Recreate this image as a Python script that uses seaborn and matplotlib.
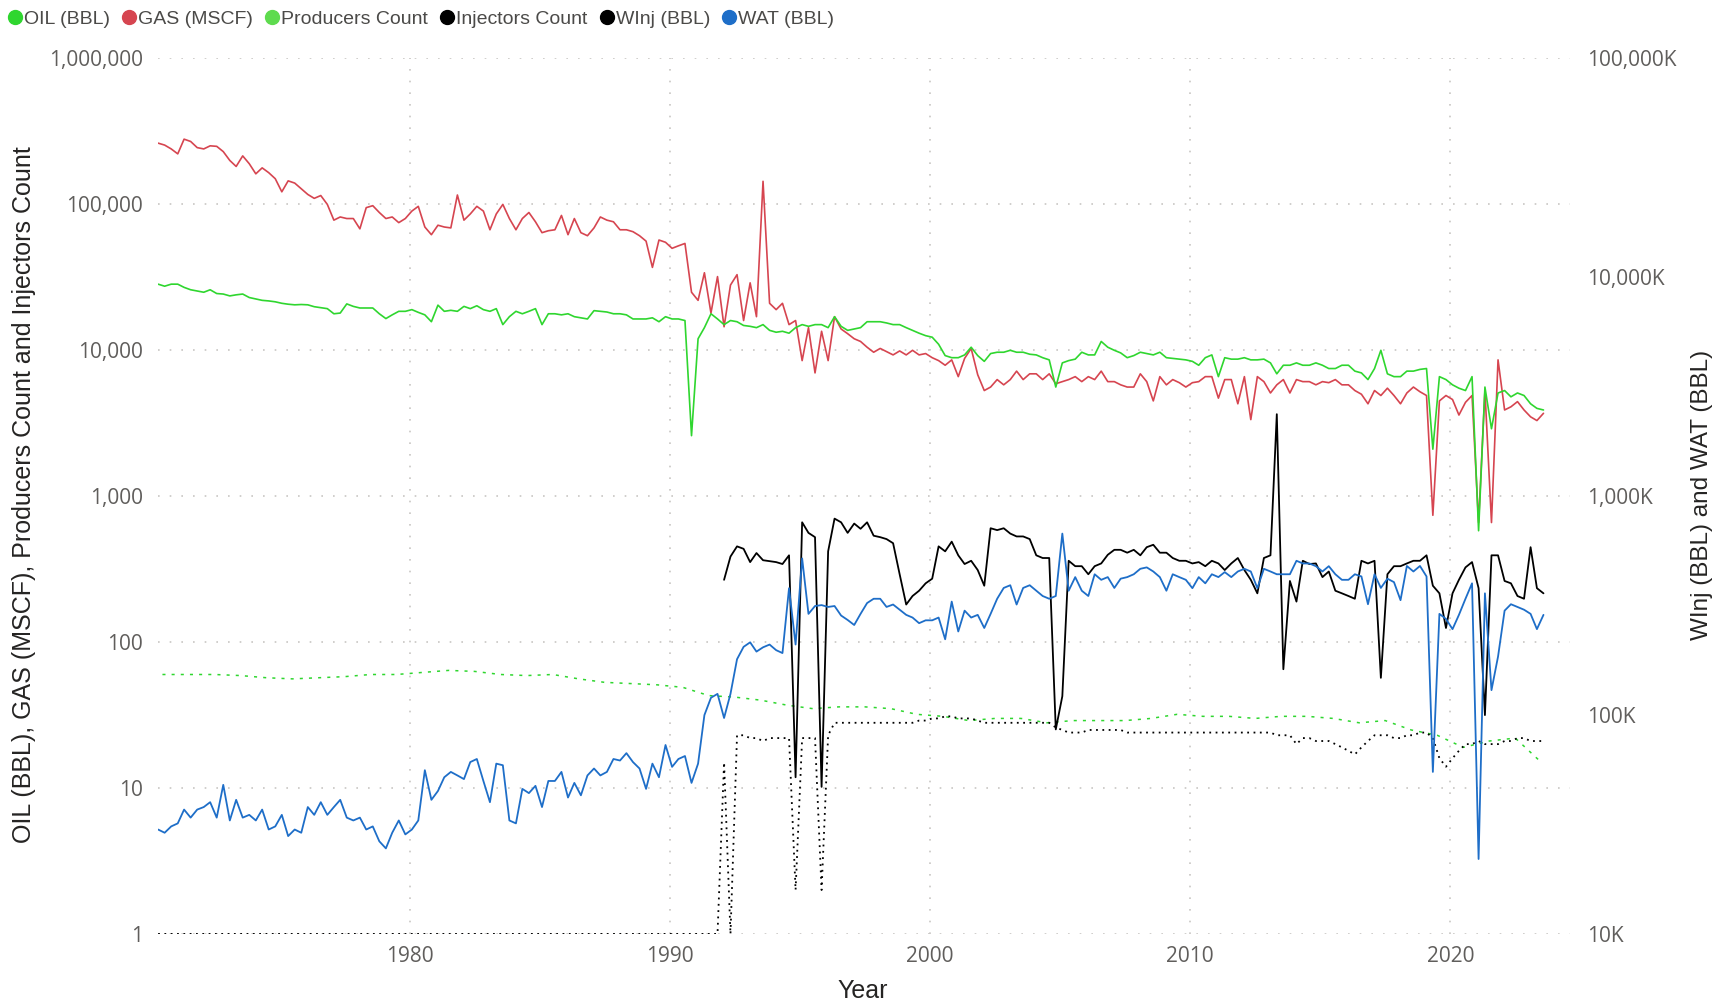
import pandas as pd
import matplotlib
matplotlib.use("Agg")
import matplotlib.pyplot as plt
import matplotlib.dates as mdates
from matplotlib.ticker import FixedLocator, FuncFormatter, NullLocator
from matplotlib.lines import Line2D
import seaborn as sns

# quarterly values, first point May 1970, last point Aug 2023
oil = [
    28400, 27500, 28400,
    28400, 27000, 26000, 25500,  25000, 26000, 24500, 24300,  23600, 24000, 24300, 23000,
    22500, 22000, 21800, 21500,  21000, 20700, 20500, 20600,  20500, 19900, 19600, 19300,
    17800, 18000, 20800, 20000,  19500, 19500, 19500, 17800,  16500, 17500, 18500, 18500,
    19000, 18200, 17500, 15700,  20400, 18500, 18800, 18500,  20000, 19300, 20200, 19000,
    18500, 19300, 15000, 17000,  18500, 17800, 18500, 19300,  15000, 17800, 17800, 17500,
    17800, 17000, 16700, 16400,  18700, 18500, 18300, 17800,  17800, 17500, 16400, 16400,
    16400, 16700, 15700, 17000,  16400, 16400, 16000, 2600,   12000, 14300, 17800, 16400,
    15000, 16000, 15700, 14800,  14600, 14300, 15000, 13700,  13300, 13500, 13100, 14300,
    15000, 14600, 15000, 15000,  14300, 17000, 14600, 13700,  14000, 14300, 15700, 15700,
    15700, 15400, 15000, 15000,  14300, 13700, 13100, 12600,  12300, 11000, 9200, 8900,
    8900, 9300, 10500, 9200,     8400, 9500, 9700, 9700,      10000, 9700, 9700, 9400,
    9300, 8900, 8600, 5600,      8200, 8500, 8700, 9700,      9300, 9300, 11500, 10500,
    10000, 9600, 8900, 9200,     9700, 9500, 9300, 9700,      8900, 8800, 8700, 8600,
    8400, 7900, 8900, 9300,      6600, 8900, 8700, 8700,      8900, 8600, 8600, 8700,
    8200, 6900, 7900, 7900,      8200, 7900, 7900, 8200,      7900, 7500, 7500, 7900,
    7900, 7200, 7000, 6300,      7500, 10000, 6900, 6600,     6600, 7200, 7200, 7400,
    7500, 2100, 6600, 6300,      5800, 5500, 5300, 6600,      580, 5600, 2900, 5100,
    5300, 4800, 5100, 4900,
    4300, 4000, 3900,
]

gas = [
    263000, 255000, 240000,
    222000, 280000, 270000, 245000,  240000, 252000, 250000, 230000,  200000, 182000, 215000, 190000,
    162000, 178000, 165000, 150000,  122000, 145000, 140000, 128000,  117000, 110000, 115000, 100000,
    78000, 82000, 80000, 80000,      68000, 95000, 98000, 88000,      80000, 82000, 75000, 80000,
    90000, 97000, 70000, 62000,      72000, 70000, 69000, 116000,     78000, 86000, 97000, 90000,
    67000, 86000, 100000, 80000,     67000, 80000, 88000, 76000,      64000, 66000, 67000, 84000,
    62000, 80000, 64000, 61000,      69000, 82000, 78000, 76000,      67000, 67000, 65000, 61000,
    56000, 37000, 57000, 55000,      50000, 52000, 54000, 25000,      22000, 34000, 18000, 32000,
    14500, 28000, 33000, 16000,      29000, 17000, 144000, 21000,     19000, 21000, 15000, 16000,
    8500, 14300, 7000, 13500,        8500, 17000, 14000, 13000,       12000, 11500, 10500, 9700,
    10300, 9800, 9300, 9900,         9300, 10000, 9300, 9500,         8900, 8500, 7900, 8600,
    6600, 8800, 10300, 6800,         5300, 5600, 6300, 5800,          6300, 7200, 6300, 6900,
    6900, 6300, 6900, 5900,          6100, 6300, 6600, 6100,          6600, 6300, 7200, 6100,
    6100, 5800, 5600, 5600,          6900, 6100, 4500, 6600,          5800, 6300, 6000, 5600,
    6000, 6100, 6600, 6600,          4700, 6300, 6300, 4300,          6600, 3350, 6600, 6100,
    5100, 5800, 6300, 5100,          6300, 6100, 6100, 5800,          6100, 6000, 6300, 5800,
    5800, 5300, 5000, 4300,          5300, 4900, 5500, 4900,          4300, 5100, 5600, 5200,
    4900, 740, 4500, 4900,           4600, 3600, 4400, 4900,          660, 5300, 660, 8600,
    3900, 4100, 4450, 3900,
    3500, 3300, 3700,
]

wat = [
    30000, 29000, 31000,
    32000, 37000, 34000, 37000,      38000, 40000, 34000, 48000,      33000, 41000, 34000, 35000,
    33000, 37000, 30000, 31000,      35000, 28000, 30000, 29000,      38000, 35000, 40000, 35000,
    38000, 41000, 34000, 33000,      34000, 30000, 31000, 26500,      24600, 29000, 33000, 28500,
    30000, 33000, 56000, 41000,      45000, 52000, 55000, 53000,      51000, 61000, 63000, 50000,
    40000, 60000, 59000, 33000,      32000, 46000, 44000, 47500,      38000, 50000, 50000, 55000,
    42000, 49000, 43000, 53000,      57000, 53000, 55000, 63000,      62000, 67000, 61000, 57000,
    46000, 60000, 52000, 73000,      58000, 63000, 65000, 49000,      60000, 100000, 120000, 125000,
    97000, 125000, 180000, 205000,   215000, 195000, 204000, 210000,  198000, 192000, 380000, 210000,
    520000, 290000, 315000, 318000,  312000, 315000, 285000, 272000,  258000, 290000, 325000, 340000,
    340000, 312000, 320000, 303000,  287000, 279000, 263000, 271000,  271000, 279000, 222000, 330000,
    241000, 300000, 279000, 287000,  250000, 290000, 340000, 381000,  392000, 320000, 381000, 392000,
    370000, 350000, 340000, 350000,  675000, 370000, 427000, 370000,  350000, 440000, 415000, 427000,
    381000, 420000, 427000, 440000,  466000, 473000, 453000, 427000,  370000, 440000, 427000, 415000,
    380000, 427000, 400000, 440000,  427000, 450000, 427000, 453000,  466000, 453000, 380000, 466000,
    453000, 440000, 440000, 440000,  507000, 493000, 493000, 479000,  453000, 479000, 440000, 415000,
    415000, 440000, 430000, 321000,  440000, 381000, 420000, 405000,  335000, 480000, 453000, 480000,
    430000, 55000, 290000, 275000,   247000, 287000, 340000, 400000,  22000, 360000, 130000, 185000,
    300000, 321000, 312000, 303000,
    290000, 247000, 287000,
]

# water injection starts Feb 1992
winj = [
    415000, 530000, 590000, 575000,  500000, 550000, 510000, 505000,  500000, 490000, 537000, 52000,
    760000, 680000, 650000, 47000,   560000, 790000, 760000, 680000,  750000, 710000, 760000, 660000,
    650000, 637000, 610000, 440000,  320000, 350000, 370000, 400000,  420000, 590000, 560000, 620000,
    537000, 490000, 507000, 460000,  390000, 714000, 700000, 714000,  675000, 655000, 655000, 637000,
    537000, 522000, 522000, 86000,   122000, 507000, 479000, 479000,  440000, 479000, 493000, 540000,
    569000, 569000, 552000, 569000,  537000, 585000, 600000, 552000,  552000, 522000, 507000, 507000,
    493000, 500000, 479000, 507000,  493000, 460000, 493000, 522000,  460000, 415000, 360000, 522000,
    537000, 2370000, 162000, 410000, 330000, 507000, 490000, 493000,  427000, 453000, 370000, 360000,
    350000, 340000, 507000, 493000,  507000, 148000, 440000, 479000,  479000, 493000, 507000, 507000,
    537000, 390000, 360000, 250000,  360000, 415000, 473000, 500000,  380000, 100000, 537000, 537000,
    410000, 400000, 350000, 340000,
    585000, 380000, 360000,
]

injectors = [
    1, 1, 1,
    1, 1, 1, 1,  1, 1, 1, 1,  1, 1, 1, 1,  1, 1, 1, 1,  1, 1, 1, 1,  1, 1, 1, 1,  1, 1, 1, 1,
    1, 1, 1, 1,  1, 1, 1, 1,  1, 1, 1, 1,  1, 1, 1, 1,  1, 1, 1, 1,  1, 1, 1, 1,  1, 1, 1, 1,
    1, 1, 1, 1,  1, 1, 1, 1,  1, 1, 1, 1,  1, 1, 1, 1,  1, 1, 1, 1,  1, 1, 1, 1,  1, 1, 1, 1,
    15, 1, 23, 23,    22, 22, 21, 22,    22, 22, 22, 2,     22, 22, 22, 2,
    23, 28, 28, 28,   28, 28, 28, 28,    28, 28, 28, 28,    28, 28, 29, 29,
    30, 30, 31, 31,   30, 30, 30, 29,    28, 28, 28, 28,    28, 28, 28, 28,
    28, 28, 28, 26,   25, 24, 24, 24,    25, 25, 25, 25,    25, 25, 24, 24,
    24, 24, 24, 24,   24, 24, 24, 24,    24, 24, 24, 24,    24, 24, 24, 24,
    24, 24, 24, 24,   24, 23, 23, 23,    20, 22, 22, 21,    21, 21, 20, 19,
    18, 17, 19, 21,   23, 23, 23, 22,    22, 23, 23, 24,    24, 22, 16, 14,
    16, 18, 20, 20,   21, 20, 20, 20,    21, 21, 22, 22,
    21, 21, 21,
]

# yearly, mid-year 1970 .. 2023
producers = [
    60, 60, 60, 59, 57, 56, 57, 58, 60, 60,
    62, 64, 63, 60, 59, 60, 56, 53, 52, 51,
    49, 43, 42, 40, 37, 35, 36, 36, 35, 32,
    31, 29, 30, 30, 28, 29, 29, 29, 30, 32,
    31, 31, 30, 31, 31, 30, 28, 29, 25, 23,
    19, 21, 22, 15,
]

legend_labels = ["OIL (BBL)", "GAS (MSCF)", "Producers Count", "Injectors Count", "WInj (BBL)", "WAT (BBL)"]
left_ticks = [1, 10, 100, 1000, 10000, 100000, 1000000]
right_ticks = [1e4, 1e5, 1e6, 1e7, 1e8]

GREEN = "#2FD62F"
GREEN_LIGHT = "#5EDB4E"
RED = "#D64550"
BLUE = "#1E6EC8"
BLACK = "#000000"
TICK_C = "#605E5C"
TITLE_C = "#252423"

sns.set_style("white")
plt.rcParams["font.family"] = ["Open Sans", "DejaVu Sans"]
narrow = ["Liberation Sans", "DejaVu Sans"]

q_dates = pd.date_range("1970-05-01", periods=len(oil), freq="3MS")
winj_dates = pd.date_range("1992-02-01", periods=len(winj), freq="3MS")
prod_dates = pd.date_range("1970-07-01", periods=len(producers), freq="12MS")

fig = plt.figure(figsize=(17.24, 10.05), dpi=100)
ax = fig.add_axes([0.0917, 0.0707, 0.819, 0.8711])
ax2 = ax.twinx()

sns.lineplot(x=prod_dates, y=producers, ax=ax, color=GREEN, lw=1.1, linestyle=(0, (2, 4)), estimator=None)
sns.lineplot(x=q_dates, y=injectors, ax=ax, color=BLACK, lw=1.3, linestyle=(0, (1, 2.5)), estimator=None)
sns.lineplot(x=q_dates, y=gas, ax=ax, color=RED, lw=1.2, estimator=None)
sns.lineplot(x=q_dates, y=oil, ax=ax, color=GREEN, lw=1.2, estimator=None)
sns.lineplot(x=winj_dates, y=winj, ax=ax2, color=BLACK, lw=1.3, estimator=None)
sns.lineplot(x=q_dates, y=wat, ax=ax2, color=BLUE, lw=1.3, estimator=None)

ax.set_yscale("log")
ax2.set_yscale("log")
ax.set_ylim(1, 1e6)
ax2.set_ylim(1e4, 1e8)
ax.set_xlim(pd.Timestamp("1970-05-01"), pd.Timestamp("2024-08-08"))

ax.yaxis.set_major_locator(FixedLocator(left_ticks))
ax.yaxis.set_minor_locator(NullLocator())
ax.yaxis.set_major_formatter(FuncFormatter(lambda v, p: f"{v:,.0f}"))
ax2.yaxis.set_major_locator(FixedLocator(right_ticks))
ax2.yaxis.set_minor_locator(NullLocator())
ax2.yaxis.set_major_formatter(FuncFormatter(lambda v, p: f"{v / 1000:,.0f}K"))
ax.xaxis.set_major_locator(mdates.YearLocator(10))
ax.xaxis.set_major_formatter(mdates.DateFormatter("%Y"))

ax.grid(True, axis="both", color="#C8C6C4", lw=1.2, linestyle=(0, (1, 6)))
ax.set_axisbelow(True)
for a in (ax, ax2):
    for s in a.spines.values():
        s.set_visible(False)
    a.set_xlabel("")
    a.set_ylabel("")
ax.tick_params(axis="y", length=0, pad=11, labelsize=15, labelcolor=TICK_C)
ax.tick_params(axis="x", length=0, pad=9, labelsize=15, labelcolor=TICK_C)
ax2.tick_params(axis="y", length=0, pad=12, labelsize=15, labelcolor=TICK_C)

fig.text(0.0139, 0.5075, "OIL (BBL), GAS (MSCF), Producers Count and Injectors Count",
         rotation=90, ha="center", va="center", fontsize=18, color=TITLE_C, family=narrow)
fig.text(0.987, 0.5075, "WInj (BBL) and WAT (BBL)",
         rotation=90, ha="center", va="center", fontsize=17.5, color=TITLE_C, family=narrow)
fig.text(0.5006, 0.014, "Year", ha="center", va="center", fontsize=18, color=TITLE_C, family=narrow)

colors = [GREEN, RED, GREEN_LIGHT, BLACK, BLACK, BLUE]
handles = [Line2D([], [], marker="o", linestyle="", markersize=10,
                  markerfacecolor=c, markeredgecolor=c) for c in colors]
fig.legend(handles, legend_labels, loc="center left", bbox_to_anchor=(0.002, 0.981), ncol=6,
           frameon=False, handletextpad=0.1, columnspacing=0.6, handlelength=0.75,
           borderaxespad=0, borderpad=0.2, prop={"family": narrow, "size": 14},
           labelcolor="#4B4A48")

fig.savefig("out.png", dpi=100)
